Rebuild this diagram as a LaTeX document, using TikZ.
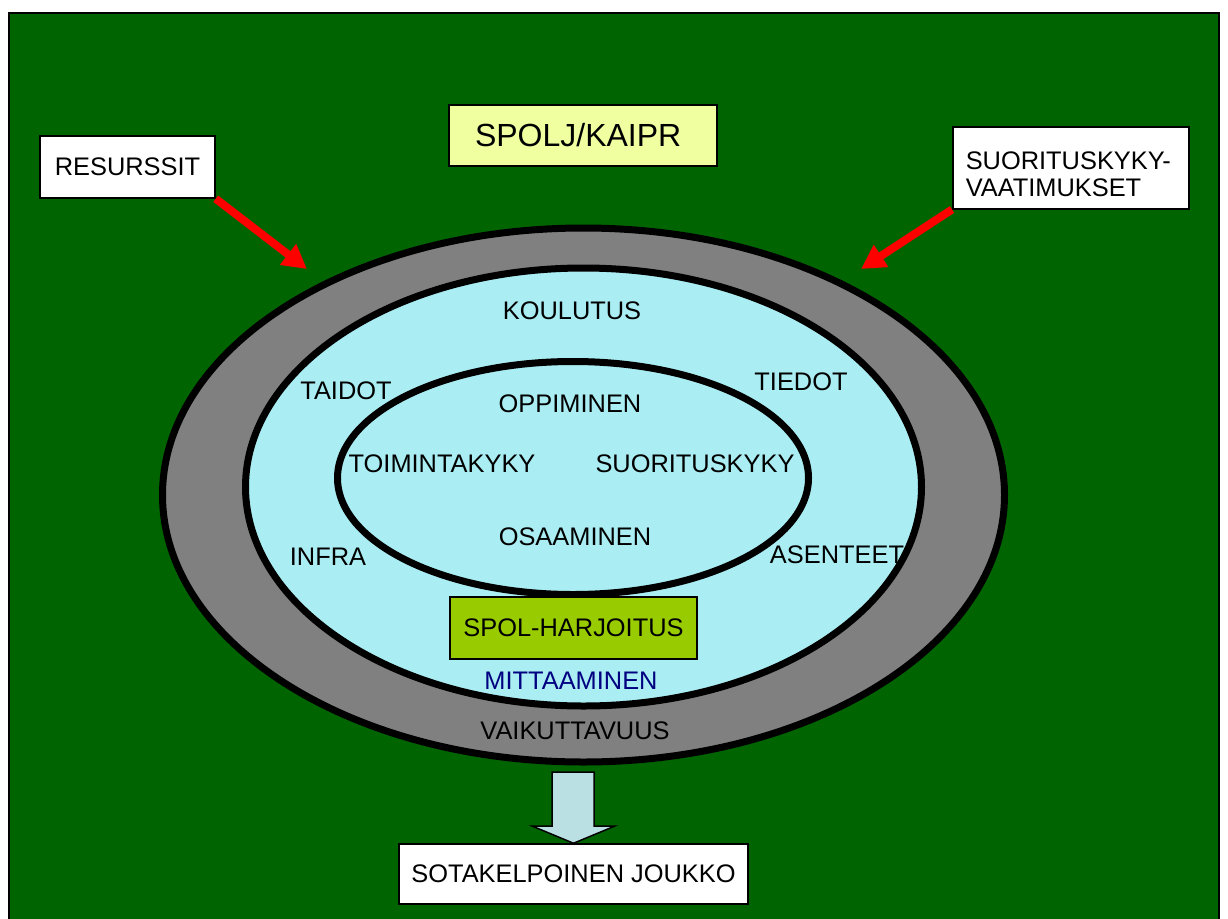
\documentclass[tikz,border=0pt]{standalone}
\usepackage{fontspec}
\setmainfont{Liberation Sans}
\usetikzlibrary{shapes.geometric,arrows.meta}
\definecolor{bggreen}{HTML}{006400}
\definecolor{ringgray}{HTML}{808080}
\definecolor{lightcyan}{HTML}{AAEEF4}
\definecolor{paleyellow}{HTML}{F0FFA0}
\definecolor{limegreen}{HTML}{99CC00}
\definecolor{arrowblue}{HTML}{BBE0E3}
\definecolor{navytext}{HTML}{000080}
\definecolor{redarrow}{HTML}{FF0000}
\tikzset{
  ring/.style={shape=ellipse, draw=black, line width=7pt, inner sep=0pt},
  whitebox/.style={draw=black, fill=white, line width=1.5pt, inner sep=0pt, font=\fontsize{25.4}{27}\selectfont},
  lbl/.style={inner sep=0pt, font=\fontsize{25.4}{27}\selectfont},
  redconn/.style={draw=redarrow, line width=8pt, -{Triangle[length=24pt,width=25pt]}},
}
\begin{document}
\begin{tikzpicture}[x=1pt,y=-1pt]
\useasboundingbox (0,0) rectangle (1228,918);
% background
\draw[fill=bggreen, draw=black, line width=2pt] (9,13) rectangle (1219,930);
% rings
\node[ring, fill=ringgray, minimum width=842pt, minimum height=534pt] (outer) at (583.5,495) {};
\node[ring, fill=lightcyan, minimum width=676pt, minimum height=438pt] (middle) at (583.5,487) {};
\node[ring, fill=lightcyan, minimum width=471pt, minimum height=233pt] (inner) at (573,478) {};
% boxes
\node[whitebox, minimum width=175pt, minimum height=62pt] (res) at (127.5,167) {RESURSSIT};
\node[draw=black, fill=paleyellow, line width=1.5pt, inner ysep=0pt, inner xsep=26pt, text width=216pt, align=left, minimum height=61pt, font=\fontsize{32}{34}\selectfont] (spolj) at (583,135.5) {SPOLJ/KAIPR};
\node[whitebox, inner xsep=13pt, inner ysep=0pt, text width=210pt, align=left, text height=42.5pt, text depth=39.5pt, anchor=north west] (vaat) at (952,126) {SUORITUSKYKY-\\VAATIMUKSET};
\node[whitebox, minimum width=349pt, minimum height=60pt] (sota) at (573.5,874) {SOTAKELPOINEN JOUKKO};
\node[draw=black, fill=limegreen, line width=1.5pt, inner sep=0pt, minimum width=247pt, minimum height=62pt, font=\fontsize{25.4}{27}\selectfont] (harj) at (573.5,628) {SPOL-HARJOITUS};
% labels
\node[lbl] (koul) at (572,311) {KOULUTUS};
\node[lbl] (taid) at (346,391) {TAIDOT};
\node[lbl] (tied) at (801,382) {TIEDOT};
\node[lbl] (oppi) at (570,404) {OPPIMINEN};
\node[lbl] (toim) at (442,464) {TOIMINTAKYKY};
\node[lbl] (suor) at (695,464) {SUORITUSKYKY};
\node[lbl] (osaa) at (575,537) {OSAAMINEN};
\node[lbl] (infr) at (328,557) {INFRA};
\node[lbl] (asen) at (837,555) {ASENTEET};
\node[lbl, text=navytext] (mitt) at (571,681) {MITTAAMINEN};
\node[lbl] (vaik) at (575,731) {VAIKUTTAVUUS};
% red arrows
\coordinate (tipA) at (307,269);
\coordinate (tipB) at (861,269);
\draw[redconn] (res.south east) -- (tipA);
\draw[redconn] (vaat.south west) -- (tipB);
% block arrow
\draw[fill=arrowblue, draw=black, line width=1.5pt]
  (552,772) -- (594,772) -- (594,826) -- (615,826) -- (sota.north) -- (532,826) -- (552,826) -- cycle;
\end{tikzpicture}
\end{document}
